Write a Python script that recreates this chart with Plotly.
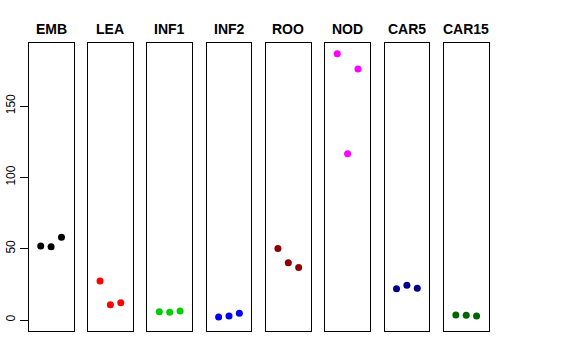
import plotly.graph_objects as go

groups = ["EMB", "LEA", "INF1", "INF2", "ROO", "NOD", "CAR5", "CAR15"]
colors = ["#000000", "#FF0000", "#00CD00", "#0000FF", "#8B0000", "#FF00FF", "#00008B", "#006400"]
reps = [1, 2, 3]
values = {
    "EMB": [51.9, 51.4, 58.0],
    "LEA": [27.3, 10.7, 12.1],
    "INF1": [5.8, 5.4, 6.3],
    "INF2": [2.1, 2.8, 4.7],
    "ROO": [50.2, 40.2, 36.9],
    "NOD": [186.7, 116.6, 175.9],
    "CAR5": [22.0, 24.3, 22.2],
    "CAR15": [3.5, 3.3, 2.8],
}
y_ticks = [0, 50, 100, 150]

W, H = 576, 360
left0, pw, pitch = 28.7, 44.8, 59.3
top_px, bot_px = 42.7, 331.0

fig = go.Figure()
layout = dict(
    width=W, height=H, margin=dict(l=0, r=0, t=0, b=0),
    plot_bgcolor="white", paper_bgcolor="white", showlegend=False,
    font=dict(family="Liberation Sans, Arial, sans-serif", color="black"),
)
annotations = []
for i, g in enumerate(groups):
    n = "" if i == 0 else str(i + 1)
    x0 = (left0 + i * pitch) / W
    x1 = (left0 + i * pitch + pw) / W
    fig.add_trace(go.Scatter(
        x=reps, y=values[g], mode="markers",
        marker=dict(color=colors[i], size=7),
        xaxis="x" + n, yaxis="y" + n, hoverinfo="x+y",
    ))
    layout["xaxis" + n] = dict(
        domain=[x0, x1], range=[-0.16, 4.16], showgrid=False, zeroline=False,
        showticklabels=False, ticks="", showline=True, mirror=True,
        linecolor="black", linewidth=1, anchor="y" + n,
    )
    yax = dict(
        domain=[1 - bot_px / H, 1 - top_px / H], range=[-7.7, 194.4],
        showgrid=False, zeroline=False, showline=True, mirror=True,
        linecolor="black", linewidth=1, anchor="x" + n,
    )
    if i == 0:
        yax.update(tickvals=y_ticks, ticktext=[str(v) for v in y_ticks],
                   ticks="outside", ticklen=8, tickcolor="black",
                   tickangle=-90, tickfont=dict(size=12, color="black"))
    else:
        yax.update(showticklabels=False, ticks="")
    layout["yaxis" + n] = yax
    annotations.append(dict(
        text="<b>%s</b>" % g, x=(x0 + x1) / 2, y=1 - 29 / H,
        xref="paper", yref="paper", showarrow=False,
        xanchor="center", yanchor="middle", font=dict(size=14, color="black"),
    ))
layout["annotations"] = annotations
fig.update_layout(**layout)
fig.write_html("out.html", config={"displayModeBar": False},
               post_script="document.body.style.margin='0px';")
